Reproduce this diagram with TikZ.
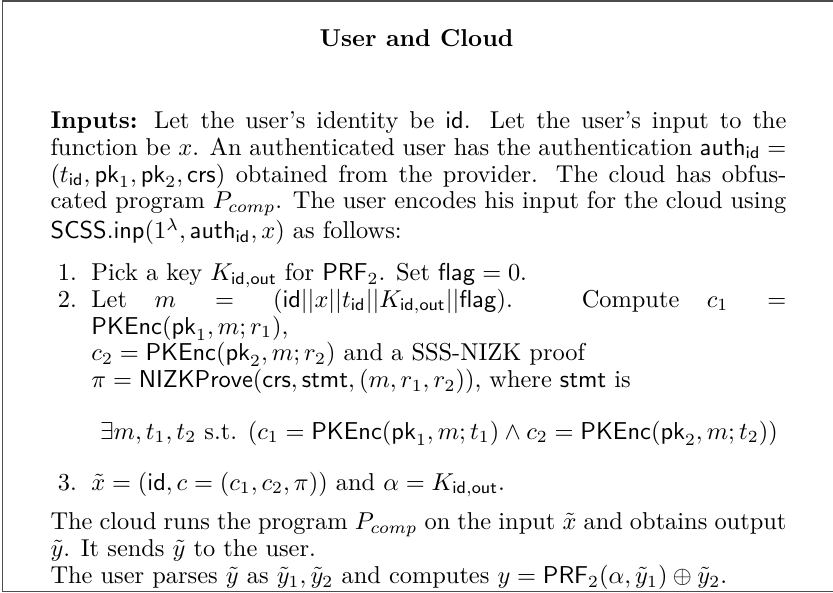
\documentclass[tikz,border=0pt]{standalone}
\usepackage{amsmath,amssymb}

% sans-serif protocol names
\newcommand{\tid}{\mathsf{id}}
\newcommand{\Kout}{K_{\mathsf{id},\mathsf{out}}}
\newcommand{\PKE}{\mathsf{PKEnc}}

\tikzset{
  frameline/.style={draw=black!70, line width=0.45pt},
  textblock/.style={inner sep=0pt, anchor=base west}
}

\begin{document}
\begin{tikzpicture}[x=1pt,y=1pt]
  \useasboundingbox (0,0) rectangle (341.4,243);
  % open frame: top, left and bottom rules
  \coordinate (tr) at (341.4,242.6);
  \coordinate (tl) at (1.2,242.6);
  \coordinate (bl) at (1.2,0.4);
  \coordinate (br) at (341.4,0.4);
  \draw[frameline] (tr) -- (tl) -- (bl) -- (br);

  \node[inner sep=0pt, anchor=base] (title) at (170.7,223.8) {\textbf{User and Cloud}};

  \node[textblock] (body) at (20.5,190.4) {%
  \begin{minipage}[t]{301.6pt}
  \fontsize{10pt}{11pt}\selectfont
  \setlength{\abovedisplayskip}{10pt}\setlength{\belowdisplayskip}{10pt}%
  \textbf{Inputs:} Let the user's identity be $\tid$. Let the user's input to the\linebreak
  function be $x$. An authenticated user has the authentication $\mathsf{auth}_{\tid} =$\linebreak
  $(t_{\tid}, \mathsf{pk}_1, \mathsf{pk}_2, \mathsf{crs})$ obtained from the provider. The cloud has obfus-\linebreak
  cated program $P_{comp}$. The user encodes his input for the cloud using\linebreak
  $\mathsf{SCSS.inp}(1^\lambda, \mathsf{auth}_{\tid}, x)$ as follows:

  \begin{list}{\arabic{enumi}.}{\usecounter{enumi}%
      \setlength{\leftmargin}{16.8pt}\setlength{\labelsep}{6pt}%
      \setlength{\labelwidth}{10.8pt}%
      \setlength{\itemsep}{0pt}\setlength{\parsep}{0pt}%
      \setlength{\topsep}{6pt}\setlength{\partopsep}{0pt}}
    \item Pick a key $\Kout$ for $\mathsf{PRF}_2$. Set $\mathsf{flag} = 0$.
    \item Let $m = (\tid||x||t_{\tid}||\Kout||\mathsf{flag})$. Compute $c_1 =$\linebreak
      $\PKE(\mathsf{pk}_1, m; r_1)$,\\
      $c_2 = \PKE(\mathsf{pk}_2, m; r_2)$ and a SSS-NIZK proof\\
      $\pi = \mathsf{NIZKProve}(\mathsf{crs}, \mathsf{stmt}, (m, r_1, r_2))$, where $\mathsf{stmt}$ is
      \[ \exists m, t_1, t_2 \text{ s.t. } (c_1 = \PKE(\mathsf{pk}_1, m; t_1) \wedge c_2 = \PKE(\mathsf{pk}_2, m; t_2)) \]
    \item $\tilde{x} = (\tid, c = (c_1, c_2, \pi))$ and $\alpha = \Kout$.
  \end{list}
  \vspace{-0.8pt}%
  The cloud runs the program $P_{comp}$ on the input $\tilde{x}$ and obtains output\linebreak
  $\tilde{y}$. It sends $\tilde{y}$ to the user.\\
  The user parses $\tilde{y}$ as $\tilde{y}_1, \tilde{y}_2$ and computes $y = \mathsf{PRF}_2(\alpha, \tilde{y}_1) \oplus \tilde{y}_2$.
  \end{minipage}};
\end{tikzpicture}
\end{document}
